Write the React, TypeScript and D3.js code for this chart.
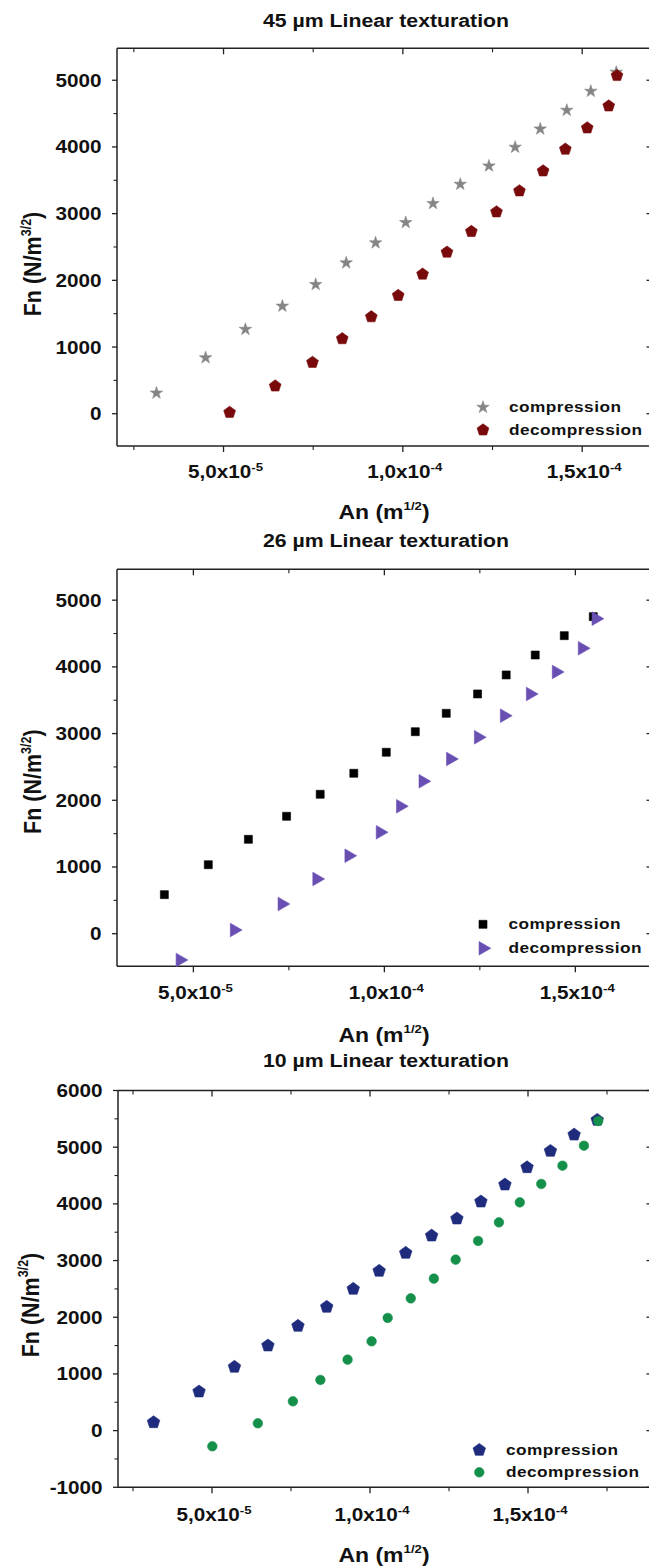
import React from 'react';
import * as d3 from 'd3';

// ---------- data ----------
const seriesNames = ['compression', 'decompression'];

const p1CompX = [3.13e-5, 4.5e-5, 5.61e-5, 6.64e-5, 7.57e-5, 8.42e-5, 9.24e-5, 1.008e-4, 1.084e-4, 1.16e-4, 1.24e-4, 1.313e-4, 1.383e-4, 1.457e-4, 1.524e-4, 1.595e-4];
const p1CompY = [310, 840, 1265, 1613, 1938, 2262, 2562, 2867, 3152, 3441, 3715, 3996, 4270, 4550, 4835, 5120];
const p1DecX = [5.17e-5, 6.44e-5, 7.48e-5, 8.31e-5, 9.12e-5, 9.87e-5, 1.055e-4, 1.123e-4, 1.191e-4, 1.261e-4, 1.325e-4, 1.391e-4, 1.453e-4, 1.514e-4, 1.574e-4, 1.597e-4];
const p1DecY = [20, 415, 770, 1124, 1453, 1773, 2093, 2422, 2732, 3026, 3341, 3640, 3966, 4285, 4614, 5070];

const p2CompX = [4.24e-5, 5.39e-5, 6.44e-5, 7.44e-5, 8.32e-5, 9.2e-5, 1.005e-4, 1.081e-4, 1.162e-4, 1.244e-4, 1.319e-4, 1.395e-4, 1.471e-4, 1.547e-4];
const p2CompY = [585, 1034, 1415, 1760, 2090, 2405, 2720, 3028, 3304, 3594, 3879, 4178, 4468, 4753];
const p2DecX = [4.65e-5, 6.07e-5, 7.32e-5, 8.23e-5, 9.07e-5, 9.89e-5, 1.042e-4, 1.101e-4, 1.173e-4, 1.246e-4, 1.314e-4, 1.382e-4, 1.45e-4, 1.518e-4, 1.554e-4];
const p2DecY = [-394, 55, 445, 820, 1169, 1520, 1910, 2285, 2619, 2945, 3268, 3594, 3924, 4279, 4723];

const p3CompX = [3.15e-5, 4.59e-5, 5.71e-5, 6.77e-5, 7.72e-5, 8.63e-5, 9.47e-5, 1.029e-4, 1.113e-4, 1.195e-4, 1.275e-4, 1.351e-4, 1.427e-4, 1.497e-4, 1.571e-4, 1.646e-4, 1.719e-4];
const p3CompY = [146, 688, 1123, 1499, 1846, 2182, 2499, 2817, 3134, 3439, 3739, 4039, 4339, 4644, 4933, 5220, 5480];
const p3DecX = [5.01e-5, 6.45e-5, 7.56e-5, 8.43e-5, 9.29e-5, 1.005e-4, 1.056e-4, 1.129e-4, 1.202e-4, 1.271e-4, 1.342e-4, 1.408e-4, 1.474e-4, 1.542e-4, 1.609e-4, 1.677e-4, 1.722e-4];
const p3DecY = [-277, 129, 517, 894, 1252, 1575, 1988, 2333, 2681, 3016, 3346, 3674, 4026, 4351, 4674, 5026, 5462];

const titles = ['45 µm Linear texturation', '26 µm Linear texturation', '10 µm Linear texturation'];

const xMajorTicks = [5e-5, 1e-4, 1.5e-4];
const xMajorMant = ['5,0', '1,0', '1,5'];
const xMajorExp = ['-5', '-4', '-4'];
const xMinorTicks = [2.5e-5, 7.5e-5, 1.25e-4, 1.75e-4];

const yMajorA = [0, 1000, 2000, 3000, 4000, 5000];
const yMinorA = [-500, 500, 1500, 2500, 3500, 4500];
const yMajorB = [-1000, 0, 1000, 2000, 3000, 4000, 5000, 6000];
const yMinorB = [-500, 500, 1500, 2500, 3500, 4500, 5500];

// ---------- styling ----------
const FONT = "'Liberation Sans', Arial, Helvetica, sans-serif";
const SX = 1.15;
const AXIS = '#222';

type Sym = 'star' | 'pentagon' | 'square' | 'triangle' | 'circle' | 'pentagonL';

function pentagon(r: number): string {
  const pts: [number, number][] = d3.range(5).map((k) => {
    const a = -Math.PI / 2 + (k * 2 * Math.PI) / 5;
    return [r * Math.cos(a), r * Math.sin(a)];
  });
  return (d3.line()(pts) || '') + 'Z';
}

function symPath(s: Sym): string {
  switch (s) {
    case 'star':
      return d3.symbol(d3.symbolStar, 48)() || '';
    case 'square':
      return d3.symbol(d3.symbolSquare, 64)() || '';
    case 'triangle':
      return d3.symbol(d3.symbolTriangle, 80)() || '';
    case 'circle':
      return d3.symbol(d3.symbolCircle, 72)() || '';
    case 'pentagonL':
      return pentagon(6.6);
    default:
      return pentagon(6.2);
  }
}

function Marker({ s, color, cx, cy }: { s: Sym; color: string; cx: number; cy: number }) {
  const rot = s === 'triangle' ? ' rotate(90)' : '';
  return <path d={symPath(s)} transform={`translate(${cx},${cy})${rot}`} fill={color} stroke={color} strokeWidth={0.6} />;
}

function SText(props: { x: number; y: number; anchor?: string; size: number; children: React.ReactNode; ls?: number }) {
  return (
    <text
      transform={`translate(${props.x},${props.y}) scale(${SX},1)`}
      textAnchor={props.anchor || 'start'}
      fontSize={props.size}
      fontWeight="bold"
      fill="#111"
      letterSpacing={props.ls || 0}
    >
      {props.children}
    </text>
  );
}

type Series = { xs: number[]; ys: number[]; sym: Sym; color: string };

type PanelProps = {
  title: string;
  titleY: number;
  top: number;
  bottom: number;
  left: number;
  right: number;
  xDomain: [number, number];
  yDomain: [number, number];
  yMajor: number[];
  yMinor: number[];
  yTickRight: number;
  xTickLabelY: number;
  xLabelY: number;
  yLabelX: number;
  yLabelCY: number;
  legX: number;
  legY1: number;
  legY2: number;
  legTextX: number;
  series: Series[];
};

function Panel(p: PanelProps) {
  const x = d3.scaleLinear().domain(p.xDomain).range([p.left, p.right]);
  const y = d3.scaleLinear().domain(p.yDomain).range([p.bottom, p.top]);
  const inX = (v: number) => v > p.xDomain[0] && v < p.xDomain[1];
  const inY = (v: number) => v >= p.yDomain[0] && v <= p.yDomain[1];
  const cxCenter = 384;
  return (
    <g>
      <SText x={386} y={p.titleY} anchor="middle" size={18.5}>{p.title}</SText>

      {/* frame */}
      <line x1={p.left} x2={p.left} y1={p.top} y2={p.bottom} stroke={AXIS} strokeWidth={1.5} />
      <line x1={p.left} x2={p.right} y1={p.bottom} y2={p.bottom} stroke={AXIS} strokeWidth={1.5} />
      <line x1={p.left} x2={p.right} y1={p.top} y2={p.top} stroke={AXIS} strokeWidth={1.5} />
      <line x1={p.right} x2={p.right} y1={p.top} y2={p.bottom} stroke={AXIS} strokeWidth={1.5} />

      {/* x ticks */}
      {xMajorTicks.filter(inX).map((v) => (
        <g key={'xm' + v}>
          <line x1={x(v)} x2={x(v)} y1={p.bottom} y2={p.bottom + 6} stroke={AXIS} strokeWidth={1.3} />
          <line x1={x(v)} x2={x(v)} y1={p.top} y2={p.top + 6} stroke={AXIS} strokeWidth={1.3} />
        </g>
      ))}
      {xMinorTicks.filter(inX).map((v) => (
        <g key={'xn' + v}>
          <line x1={x(v)} x2={x(v)} y1={p.bottom} y2={p.bottom + 4} stroke={AXIS} strokeWidth={1.1} />
          <line x1={x(v)} x2={x(v)} y1={p.top} y2={p.top + 4} stroke={AXIS} strokeWidth={1.1} />
        </g>
      ))}
      {xMajorTicks.map((v, i) => (
        <SText key={'xl' + v} x={x(v) + 2} y={p.xTickLabelY} anchor="middle" size={18}>
          {xMajorMant[i]}x10
          <tspan dy={-7} fontSize={11.5}>{xMajorExp[i]}</tspan>
        </SText>
      ))}

      {/* y ticks */}
      {p.yMajor.filter(inY).map((v) => (
        <g key={'ym' + v}>
          <line x1={p.left - 5} x2={p.left} y1={y(v)} y2={y(v)} stroke={AXIS} strokeWidth={1.3} />
          <line x1={p.right - 5} x2={p.right} y1={y(v)} y2={y(v)} stroke={AXIS} strokeWidth={1.3} />
          <SText x={p.yTickRight} y={y(v) + 6.5} anchor="end" size={18}>{String(v)}</SText>
        </g>
      ))}
      {p.yMinor.filter(inY).map((v) => (
        <line key={'yn' + v} x1={p.left - 3.5} x2={p.left} y1={y(v)} y2={y(v)} stroke={AXIS} strokeWidth={1.1} />
      ))}

      {/* axis labels */}
      <SText x={cxCenter} y={p.xLabelY} anchor="middle" size={20}>
        An (m<tspan dy={-9} fontSize={11.5}>1/2</tspan>
        <tspan dy={9}>)</tspan>
      </SText>
      <text
        transform={`translate(${p.yLabelX},${p.yLabelCY}) rotate(-90) scale(1,${SX})`}
        textAnchor="middle"
        fontSize={21.5}
        fontWeight="bold"
        fill="#111"
      >
        Fn (N/m<tspan dy={-9} fontSize={12.5}>3/2</tspan>
        <tspan dy={9}>)</tspan>
      </text>

      {/* data */}
      {p.series.map((s, si) => (
        <g key={'s' + si}>
          {s.xs.map((xv, i) => (
            <Marker key={i} s={s.sym} color={s.color} cx={x(xv)} cy={y(s.ys[i])} />
          ))}
        </g>
      ))}

      {/* legend */}
      {p.series.map((s, si) => {
        const ly = si === 0 ? p.legY1 : p.legY2;
        return (
          <g key={'lg' + si}>
            <Marker s={s.sym} color={s.color} cx={p.legX} cy={ly} />
            <SText x={p.legTextX} y={ly + 5} size={15} ls={0.4}>{seriesNames[si]}</SText>
          </g>
        );
      })}
    </g>
  );
}

export default function App() {
  return (
    <svg
      width={649}
      height={1568}
      style={{ position: 'absolute', left: 0, top: 0, overflow: 'hidden' }}
      fontFamily={FONT}
    >
      <rect x={0} y={0} width={649} height={1568} fill="#fff" />
      <Panel
        title={titles[0]}
        titleY={26.5}
        top={48.3}
        bottom={446}
        left={117}
        right={651.5}
        xDomain={[2.03e-5, 1.6932e-4]}
        yDomain={[-484, 5479]}
        yMajor={yMajorA}
        yMinor={yMinorA}
        yTickRight={101.5}
        xTickLabelY={478}
        xLabelY={519}
        yLabelX={41}
        yLabelCY={264}
        legX={483}
        legY1={407.3}
        legY2={430}
        legTextX={509}
        series={[
          { xs: p1CompX, ys: p1CompY, sym: 'star', color: '#858585' },
          { xs: p1DecX, ys: p1DecY, sym: 'pentagon', color: '#780a0c' },
        ]}
      />
      <Panel
        title={titles[1]}
        titleY={546.7}
        top={569.3}
        bottom={966.3}
        left={117}
        right={651.5}
        xDomain={[3.0e-5, 1.6994e-4]}
        yDomain={[-489, 5463]}
        yMajor={yMajorA}
        yMinor={yMinorA}
        yTickRight={101.5}
        xTickLabelY={999}
        xLabelY={1041.7}
        yLabelX={41}
        yLabelCY={781.7}
        legX={483}
        legY1={924.3}
        legY2={948.3}
        legTextX={508.5}
        series={[
          { xs: p2CompX, ys: p2CompY, sym: 'square', color: '#000000' },
          { xs: p2DecX, ys: p2DecY, sym: 'triangle', color: '#6a4fb3' },
        ]}
      />
      <Panel
        title={titles[2]}
        titleY={1067}
        top={1090.5}
        bottom={1487.3}
        left={118}
        right={651.5}
        xDomain={[2.025e-5, 1.8908e-4]}
        yDomain={[-1000, 6000]}
        yMajor={yMajorB}
        yMinor={yMinorB}
        yTickRight={102.6}
        xTickLabelY={1520.7}
        xLabelY={1561.7}
        yLabelX={38.5}
        yLabelCY={1305}
        legX={479.3}
        legY1={1450}
        legY2={1472.3}
        legTextX={506}
        series={[
          { xs: p3CompX, ys: p3CompY, sym: 'pentagonL', color: '#1f2c7e' },
          { xs: p3DecX, ys: p3DecY, sym: 'circle', color: '#15904a' },
        ]}
      />
    </svg>
  );
}
